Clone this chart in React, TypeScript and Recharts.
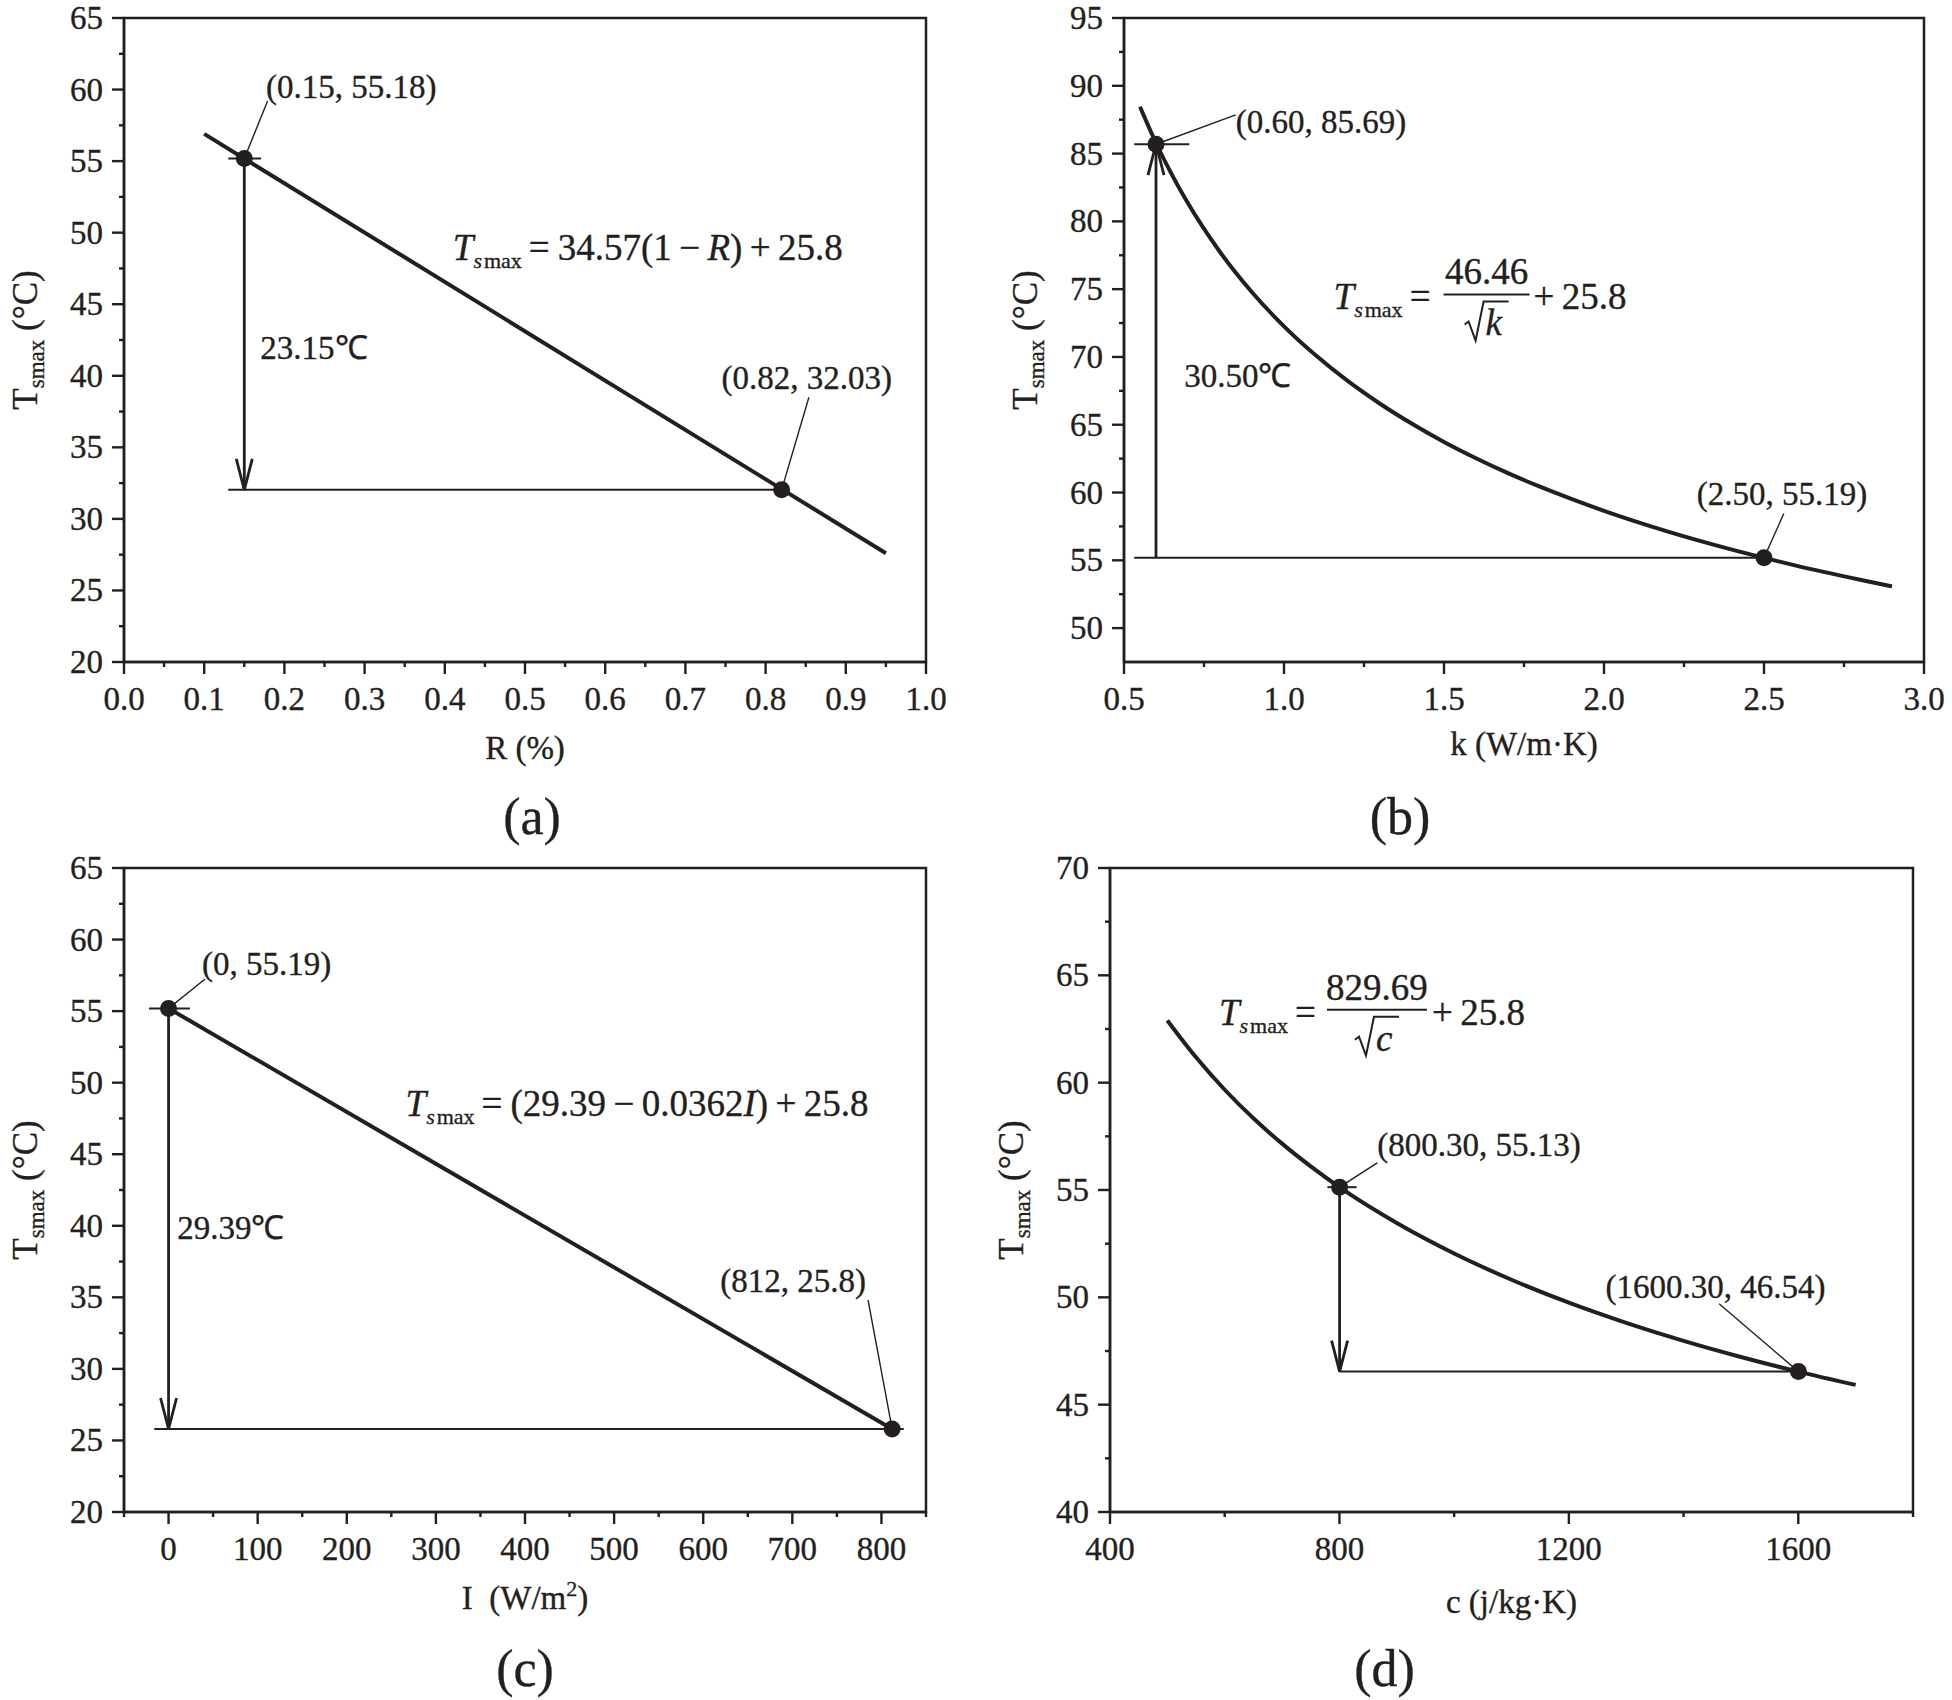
import React from "react";
import {
  ComposedChart,
  Line,
  Scatter,
  XAxis,
  YAxis,
  ReferenceLine,
  ReferenceDot,
  ReferenceArea,
} from "recharts";

const INK = "#231f20";
const FONT = '"Liberation Serif", "Times New Roman", serif';

// ---------- (a) reflectance R ----------
const lineA = [
  { x: 0.1, y: 56.9 },
  { x: 0.95, y: 27.6 },
];
const pointsA = [
  { x: 0.15, y: 55.18 },
  { x: 0.82, y: 32.03 },
];
const xMajorA = [0, 0.1, 0.2, 0.3, 0.4, 0.5, 0.6, 0.7, 0.8, 0.9, 1.0];
const xMinorA = [0.05, 0.15, 0.25, 0.35, 0.45, 0.55, 0.65, 0.75, 0.85, 0.95];
const yMajorA = [20, 25, 30, 35, 40, 45, 50, 55, 60, 65];
const yMinorA = [22.5, 27.5, 32.5, 37.5, 42.5, 47.5, 52.5, 57.5, 62.5];

// ---------- (b) conductivity k ----------
const curveB = [
  { x: 0.55, y: 88.45 },
  { x: 0.6, y: 85.78 },
  { x: 0.65, y: 83.43 },
  { x: 0.7, y: 81.33 },
  { x: 0.8, y: 77.74 },
  { x: 0.9, y: 74.77 },
  { x: 1.0, y: 72.26 },
  { x: 1.1, y: 70.1 },
  { x: 1.2, y: 68.21 },
  { x: 1.3, y: 66.55 },
  { x: 1.4, y: 65.07 },
  { x: 1.5, y: 63.73 },
  { x: 1.6, y: 62.53 },
  { x: 1.7, y: 61.43 },
  { x: 1.8, y: 60.43 },
  { x: 1.9, y: 59.51 },
  { x: 2.0, y: 58.65 },
  { x: 2.2, y: 57.12 },
  { x: 2.4, y: 55.79 },
  { x: 2.6, y: 54.61 },
  { x: 2.8, y: 53.57 },
  { x: 2.9, y: 53.08 },
];
const pointsB = [
  { x: 0.6, y: 85.69 },
  { x: 2.5, y: 55.19 },
];
const xMajorB = [0.5, 1.0, 1.5, 2.0, 2.5, 3.0];
const xMinorB = [0.75, 1.25, 1.75, 2.25, 2.75];
const yMajorB = [50, 55, 60, 65, 70, 75, 80, 85, 90, 95];
const yMinorB = [52.5, 57.5, 62.5, 67.5, 72.5, 77.5, 82.5, 87.5, 92.5];

// ---------- (c) irradiance I ----------
const lineC = [
  { x: 0, y: 55.19 },
  { x: 812, y: 25.8 },
];
const pointsC = [
  { x: 0, y: 55.19 },
  { x: 812, y: 25.8 },
];
const xMajorC = [0, 100, 200, 300, 400, 500, 600, 700, 800];
const xMinorC = [-50, 50, 150, 250, 350, 450, 550, 650, 750, 850];
const yMajorC = [20, 25, 30, 35, 40, 45, 50, 55, 60, 65];
const yMinorC = [22.5, 27.5, 32.5, 37.5, 42.5, 47.5, 52.5, 57.5, 62.5];

// ---------- (d) specific heat c ----------
const curveD = [
  { x: 500, y: 62.9 },
  { x: 550, y: 61.18 },
  { x: 600, y: 59.67 },
  { x: 650, y: 58.34 },
  { x: 700, y: 57.16 },
  { x: 750, y: 56.1 },
  { x: 800, y: 55.13 },
  { x: 900, y: 53.46 },
  { x: 1000, y: 52.04 },
  { x: 1100, y: 50.82 },
  { x: 1200, y: 49.75 },
  { x: 1300, y: 48.81 },
  { x: 1400, y: 47.97 },
  { x: 1500, y: 47.22 },
  { x: 1600, y: 46.54 },
  { x: 1700, y: 45.92 },
];
const pointsD = [
  { x: 800.3, y: 55.13 },
  { x: 1600.3, y: 46.54 },
];
const xMajorD = [400, 800, 1200, 1600];
const xMinorD = [600, 1000, 1400, 1800];
const yMajorD = [40, 45, 50, 55, 60, 65, 70];
const yMinorD = [42.5, 47.5, 52.5, 57.5, 62.5, 67.5];

// annotations: guide lines, leader lines, arrows, notes
const guidesA = [
  [{ x: 0.13, y: 32.03 }, { x: 0.82, y: 32.03 }],
  [{ x: 0.13, y: 55.18 }, { x: 0.171, y: 55.18 }],
];
const leadersA = [
  [{ x: 0.15, y: 55.18 }, { x: 0.179, y: 59.2 }],
  [{ x: 0.82, y: 32.03 }, { x: 0.854, y: 38.5 }],
];
const arrowA = [{ x: 0.15, y: 55.18 }, { x: 0.15, y: 32.03 }];
const notesA = [
  { x: 0.177, y: 59.4, text: "(0.15, 55.18)" },
  { x: 0.17, y: 41.2, text: "23.15℃" },
  { x: 0.745, y: 39.1, text: "(0.82, 32.03)" },
];
const eqAtA = { x: 0.41, y: 48.1 };

const guidesB = [
  [{ x: 0.532, y: 55.19 }, { x: 2.5, y: 55.19 }],
  [{ x: 0.532, y: 85.69 }, { x: 0.704, y: 85.69 }],
];
const leadersB = [
  [{ x: 0.6, y: 85.69 }, { x: 0.849, y: 87.85 }],
  [{ x: 2.5, y: 55.19 }, { x: 2.562, y: 58.45 }],
];
const arrowB = [{ x: 0.6, y: 55.19 }, { x: 0.6, y: 85.69 }];
const notesB = [
  { x: 0.849, y: 86.5, text: "(0.60, 85.69)" },
  { x: 0.688, y: 67.8, text: "30.50℃" },
  { x: 2.29, y: 59.1, text: "(2.50, 55.19)" },
];
const eqAtB = { x: 1.155, y: 73.5 };

const guidesC = [
  [{ x: -16, y: 25.8 }, { x: 825, y: 25.8 }],
  [{ x: -22, y: 55.19 }, { x: 24, y: 55.19 }],
];
const leadersC = [
  [{ x: 0, y: 55.19 }, { x: 41, y: 57.24 }],
  [{ x: 812, y: 25.8 }, { x: 785, y: 34.8 }],
];
const arrowC = [{ x: 0, y: 55.19 }, { x: 0, y: 25.8 }];
const notesC = [
  { x: 37.6, y: 57.55, text: "(0, 55.19)" },
  { x: 9.7, y: 39.1, text: "29.39℃" },
  { x: 619, y: 35.4, text: "(812, 25.8)" },
];
const eqAtC = { x: 266, y: 47.7 };

const guidesD = [
  [{ x: 800.3, y: 46.54 }, { x: 1600.3, y: 46.54 }],
  [{ x: 779, y: 55.13 }, { x: 830, y: 55.13 }],
];
const leadersD = [
  [{ x: 800.3, y: 55.13 }, { x: 866, y: 56.26 }],
  [{ x: 1600.3, y: 46.54 }, { x: 1462, y: 49.7 }],
];
const arrowD = [{ x: 800.3, y: 55.13 }, { x: 800.3, y: 46.54 }];
const notesD = [
  { x: 866, y: 56.6, text: "(800.30, 55.13)" },
  { x: 1264, y: 49.95, text: "(1600.30, 46.54)" },
];
const eqAtD = { x: 590, y: 62.7 };

const tickStyle = { fontFamily: FONT, fontSize: 33, fill: INK, stroke: INK, strokeWidth: 0.35 };
const noteStyle = { fontFamily: FONT, fontSize: 33, fill: INK, stroke: INK, strokeWidth: 0.35 };
const eqStyle = { fontFamily: FONT, fontSize: 37, fill: INK, stroke: INK, strokeWidth: 0.35 };

const isMajor = (v: number, majors: number[]) => majors.some((m) => Math.abs(m - v) < 1e-9);

const XTick = (p: any) => {
  const { x, y, payload, majors, digits } = p;
  const major = isMajor(payload.value, majors);
  return (
    <g>
      <line x1={x} x2={x} y1={y} y2={y + (major ? 12 : 5)} stroke={INK} strokeWidth={2.4} />
      {major && (
        <text x={x} y={y + 48} textAnchor="middle" style={tickStyle}>
          {Number(payload.value).toFixed(digits)}
        </text>
      )}
    </g>
  );
};

const YTick = (p: any) => {
  const { x, y, payload, majors } = p;
  const major = isMajor(payload.value, majors);
  return (
    <g>
      <line x1={x - (major ? 12 : 5)} x2={x} y1={y} y2={y} stroke={INK} strokeWidth={2.4} />
      {major && (
        <text x={x - 21} y={y + 11} textAnchor="end" style={tickStyle}>
          {payload.value}
        </text>
      )}
    </g>
  );
};

const Arrow = (p: any) => {
  const { x1, y1, x2, y2 } = p;
  const dx = x2 - x1;
  const dy = y2 - y1;
  const len = Math.hypot(dx, dy) || 1;
  const ux = dx / len;
  const uy = dy / len;
  const bx = x2 - ux * 31;
  const by = y2 - uy * 31;
  return (
    <g stroke={INK} strokeWidth={2.8} fill="none">
      <line x1={x1} y1={y1} x2={x2} y2={y2} />
      <path d={`M${bx - uy * 8},${by + ux * 8} L${x2},${y2} L${bx + uy * 8},${by - ux * 8}`} />
    </g>
  );
};

// "T_smax =" prefix shared by all four formulas
const TsMax = () => (
  <>
    <tspan fontStyle="italic">T</tspan>
    <tspan fontSize={22} dy={8} fontStyle="italic">s</tspan>
    <tspan fontSize={22} dx={2}>max</tspan>
    <tspan dy={-8} dx={7}>=</tspan>
  </>
);

const EqLinear = ({ x, y, body }: any) => (
  <text x={x} y={y} style={eqStyle}>
    <TsMax />
    <tspan dx={8}>{body[0]}</tspan>
    <tspan fontStyle="italic">{body[1]}</tspan>
    <tspan>{body[2]}</tspan>
  </text>
);

const EqFraction = ({ x, y, num, den, barFrom, barTo, plusAt }: any) => {
  const mid = x + (barFrom + barTo) / 2;
  const rx = mid - 22;
  return (
    <g>
      <text x={x} y={y} style={eqStyle}>
        <TsMax />
      </text>
      <text x={mid} y={y - 25} textAnchor="middle" style={eqStyle}>
        {num}
      </text>
      <line x1={x + barFrom} x2={x + barTo} y1={y - 15} y2={y - 15} stroke={INK} strokeWidth={2} />
      <path
        d={`M${rx},${y + 15} L${rx + 4},${y + 12} L${rx + 11},${y + 31} L${rx + 19},${y - 8} L${rx + 44},${y - 8}`}
        stroke={INK}
        strokeWidth={2}
        fill="none"
      />
      <text x={rx + 21} y={y + 26} style={eqStyle} fontStyle="italic">
        {den}
      </text>
      <text x={x + plusAt} y={y} style={eqStyle}>
        {"+\u200925.8"}
      </text>
    </g>
  );
};

const Panel = (props: any) => {
  const {
    left, top, yWidth, right, xDomain, yDomain, xMajor, xMinor, yMajor, yMinor, xDigits,
    curve, smooth, points, guides, leaders, arrow, notes, eqAt, eq, xTitle, titleDy, tag, tagDx, tagDy,
  } = props;
  const xTicks = [...xMajor, ...xMinor].sort((a: number, b: number) => a - b);
  const yTicks = [...yMajor, ...yMinor].sort((a: number, b: number) => a - b);
  return (
    <div style={{ position: "absolute", left, top }}>
      <ComposedChart width={976} height={850} data={curve} margin={{ top: 18, right, left: 0, bottom: 0 }}>
        <XAxis
          type="number"
          dataKey="x"
          domain={xDomain}
          ticks={xTicks}
          interval={0}
          allowDataOverflow
          height={188}
          tickSize={0}
          tickMargin={0}
          tickLine={false}
          axisLine={{ stroke: INK, strokeWidth: 2.5 }}
          tick={(p: any) => <XTick {...p} majors={xMajor} digits={xDigits} />}
          label={{
            content: (lp: any) => {
              const vb = lp.viewBox || {};
              const cx = vb.x + vb.width / 2;
              return (
                <g>
                  <text x={cx} y={vb.y + titleDy} textAnchor="middle" style={tickStyle}>
                    {xTitle}
                  </text>
                  <text x={cx + tagDx} y={vb.y + tagDy} textAnchor="middle" style={{ ...tickStyle, fontSize: 52 }}>
                    {tag}
                  </text>
                </g>
              );
            },
          }}
        />
        <YAxis
          type="number"
          domain={yDomain}
          ticks={yTicks}
          interval={0}
          allowDataOverflow
          width={yWidth}
          tickSize={0}
          tickMargin={0}
          tickLine={false}
          axisLine={{ stroke: INK, strokeWidth: 2.5 }}
          tick={(p: any) => <YTick {...p} majors={yMajor} />}
          label={{
            content: (lp: any) => {
              const vb = lp.viewBox || {};
              const tx = vb.x + vb.width - 87;
              const ty = vb.y + vb.height / 2;
              return (
                <text
                  x={tx}
                  y={ty}
                  textAnchor="middle"
                  transform={`rotate(-90 ${tx} ${ty})`}
                  style={{ ...tickStyle, fontSize: 35 }}
                >
                  T<tspan fontSize={23} dy={7}>smax</tspan>
                  <tspan dy={-7}>{" (°C)"}</tspan>
                </text>
              );
            },
          }}
        />
        <ReferenceArea
          x1={xDomain[0]}
          x2={xDomain[1]}
          y1={yDomain[0]}
          y2={yDomain[1]}
          fill="none"
          fillOpacity={0}
          stroke={INK}
          strokeWidth={2.5}
          ifOverflow="visible"
        />
        {guides.map((s: any, i: number) => (
          <ReferenceLine key={`g${i}`} segment={s} stroke={INK} strokeWidth={2} ifOverflow="visible" />
        ))}
        {leaders.map((s: any, i: number) => (
          <ReferenceLine key={`l${i}`} segment={s} stroke={INK} strokeWidth={1.4} ifOverflow="visible" />
        ))}
        <ReferenceLine segment={arrow} ifOverflow="visible" shape={(p: any) => <Arrow {...p} />} />
        <Line
          dataKey="y"
          type={smooth ? "monotone" : "linear"}
          dot={false}
          activeDot={false}
          stroke={INK}
          strokeWidth={4}
          isAnimationActive={false}
        />
        <Scatter
          data={points}
          dataKey="y"
          isAnimationActive={false}
          shape={(p: any) => <circle cx={p.cx} cy={p.cy} r={8.5} fill={INK} />}
        />
        {notes.map((n: any, i: number) => (
          <ReferenceDot
            key={`n${i}`}
            x={n.x}
            y={n.y}
            r={1}
            ifOverflow="visible"
            shape={(p: any) => (
              <text x={p.cx} y={p.cy} style={noteStyle}>
                {n.text}
              </text>
            )}
          />
        ))}
        <ReferenceDot x={eqAt.x} y={eqAt.y} r={1} ifOverflow="visible" shape={(p: any) => eq(p.cx, p.cy)} />
      </ComposedChart>
    </div>
  );
};

export default function App() {
  return (
    <div style={{ position: "absolute", left: 0, top: 0, width: 1952, height: 1700, background: "#fff" }}>
      <Panel
        left={0}
        top={0}
        yWidth={124}
        right={50}
        xDomain={[0, 1]}
        yDomain={[20, 65]}
        xMajor={xMajorA}
        xMinor={xMinorA}
        yMajor={yMajorA}
        yMinor={yMinorA}
        xDigits={1}
        curve={lineA}
        smooth={false}
        points={pointsA}
        guides={guidesA}
        leaders={leadersA}
        arrow={arrowA}
        notes={notesA}
        eqAt={eqAtA}
        eq={(x: number, y: number) => (
          <EqLinear x={x} y={y} body={["34.57(1\u2009−\u2009", "R", ")\u2009+\u200925.8"]} />
        )}
        xTitle="R (%)"
        titleDy={97}
        tag="(a)"
        tagDx={7}
        tagDy={172}
      />
      <Panel
        left={976}
        top={0}
        yWidth={148}
        right={28}
        xDomain={[0.5, 3]}
        yDomain={[47.5, 95]}
        xMajor={xMajorB}
        xMinor={xMinorB}
        yMajor={yMajorB}
        yMinor={yMinorB}
        xDigits={1}
        curve={curveB}
        smooth={true}
        points={pointsB}
        guides={guidesB}
        leaders={leadersB}
        arrow={arrowB}
        notes={notesB}
        eqAt={eqAtB}
        eq={(x: number, y: number) => (
          <EqFraction x={x} y={y} num="46.46" den="k" barFrom={110} barTo={196} plusAt={200} />
        )}
        xTitle="k (W/m·K)"
        titleDy={93}
        tag="(b)"
        tagDx={-124}
        tagDy={172}
      />
      <Panel
        left={0}
        top={850}
        yWidth={124}
        right={50}
        xDomain={[-50, 850]}
        yDomain={[20, 65]}
        xMajor={xMajorC}
        xMinor={xMinorC}
        yMajor={yMajorC}
        yMinor={yMinorC}
        xDigits={0}
        curve={lineC}
        smooth={false}
        points={pointsC}
        guides={guidesC}
        leaders={leadersC}
        arrow={arrowC}
        notes={notesC}
        eqAt={eqAtC}
        eq={(x: number, y: number) => (
          <EqLinear x={x} y={y} body={["(29.39\u2009−\u20090.0362", "I", ")\u2009+\u200925.8"]} />
        )}
        xTitle={
          <>
            {"I\u00a0\u00a0(W/m"}
            <tspan fontSize={22} dy={-13}>2</tspan>
            <tspan dy={13}>)</tspan>
          </>
        }
        titleDy={97}
        tag="(c)"
        tagDx={0}
        tagDy={174}
      />
      <Panel
        left={976}
        top={850}
        yWidth={134}
        right={39}
        xDomain={[400, 1800]}
        yDomain={[40, 70]}
        xMajor={xMajorD}
        xMinor={xMinorD}
        yMajor={yMajorD}
        yMinor={yMinorD}
        xDigits={0}
        curve={curveD}
        smooth={true}
        points={pointsD}
        guides={guidesD}
        leaders={leadersD}
        arrow={arrowD}
        notes={notesD}
        eqAt={eqAtD}
        eq={(x: number, y: number) => (
          <EqFraction x={x} y={y} num="829.69" den="c" barFrom={108} barTo={208} plusAt={213} />
        )}
        xTitle="c (j/kg·K)"
        titleDy={101}
        tag="(d)"
        tagDx={-127}
        tagDy={174}
      />
    </div>
  );
}
